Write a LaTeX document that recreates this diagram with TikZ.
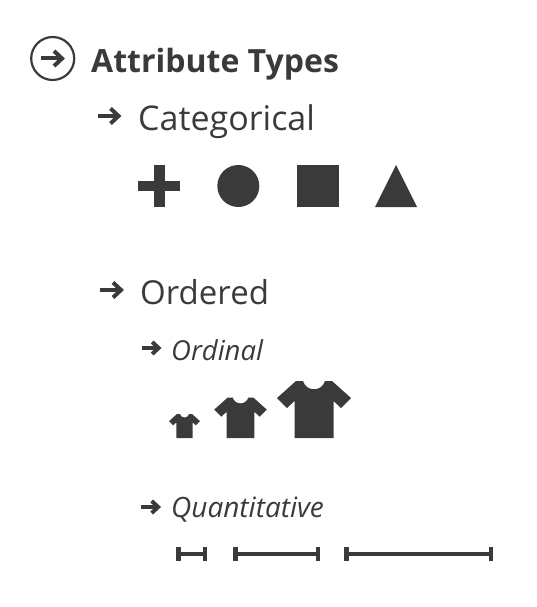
\documentclass[tikz,border=0pt]{standalone}
\usepackage{fontspec}
\setmainfont{Open Sans}
\definecolor{ink}{HTML}{3A3A3A}
\tikzset{
  heading/.style={anchor=base west,inner sep=0pt,text=ink},
  arrowmark/.pic={
    \draw[ink,line width=4pt] (-11.5,0) -- (9,0);
    \draw[ink,line width=4pt,miter limit=10] (1.5,-7.5) -- (9.5,0) -- (1.5,7.5);
  },
  shirt/.pic={
    \fill[ink] (-19.5,0) -- (-19.5,-37) -- (-27,-30) -- (-37,-40) -- (-18,-57) -- (-11,-57)
      .. controls (-8,-46) and (8,-46) .. (11,-57) -- (18,-57) -- (37,-40) -- (27,-30)
      -- (19.5,-37) -- (19.5,0) -- cycle;
  }
}
\begin{document}
\begin{tikzpicture}[x=1pt,y=-1pt]
\useasboundingbox (0,0) rectangle (537,607);

% headings
\node[heading,font=\fontsize{32}{32}\selectfont\bfseries] (attr) at (91,73) {Attribute Types};
\node[heading,font=\fontsize{34}{34}\selectfont] (cat) at (138,130) {Categorical};
\node[heading,font=\fontsize{33}{33}\selectfont] (ord) at (140,304) {Ordered};
\node[heading,font=\fontsize{27.5}{27.5}\selectfont\itshape] (ordinal) at (171,360) {Ordinal};
\node[heading,font=\fontsize{28}{28}\selectfont\itshape] (quant) at (171,517) {Quantitative};

% arrows
\draw[ink,line width=2.2pt] (52.7,58.5) circle (21.5);
\pic at (52.5,58.5) {arrowmark};
\pic at (109,116) {arrowmark};
\pic at (111.5,290) {arrowmark};
\pic[scale=.8] at (151,348) {arrowmark};
\pic[scale=.8] at (150.5,507) {arrowmark};

% marks
\fill[ink] (154,165) rectangle (164.5,207);
\fill[ink] (138,181) rectangle (180,191);
\fill[ink] (238.3,186) circle (21);
\fill[ink] (297,165) rectangle (339,207);
\fill[ink] (375,207) -- (396,165) -- (417,207) -- cycle;

% shirts
\pic[scale=.42] at (184.5,438) {shirt};
\pic[scale=.71] at (240.5,438) {shirt};
\pic at (314,438) {shirt};

% intervals
\foreach \a/\b in {176/207,233/320,344/493}{
  \draw[ink,line width=3.6pt] (\a,554) -- (\b,554);
  \fill[ink] (\a,547) rectangle ++(4.5,14);
  \fill[ink] (\b,547) rectangle ++(-4.5,14);
}
\end{tikzpicture}
\end{document}
